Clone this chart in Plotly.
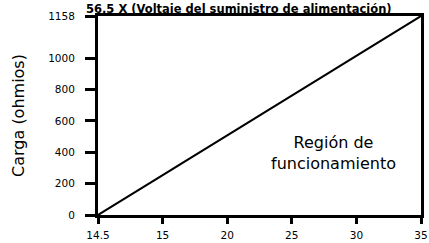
import plotly.graph_objects as go

# Data
x_categories = ["14.5", "15", "20", "25", "30", "35"]
line_x = ["14.5", "35"]
line_y = [0, 1158]
y_tick_labels = ["0", "200", "400", "600", "800", "1000", "1158"]
y_tick_values = [0, 200, 400, 600, 800, 1000]
y_axis_top = 1270  # where the top label sits on the drawn scale

title_text = "56,5 X (Voltaje del suministro de alimentación)"
region_text = "Región de<br>funcionamiento"

font_family = "DejaVu Sans, Liberation Sans, Arial, sans-serif"

fig = go.Figure()
fig.add_trace(go.Scatter(
    x=line_x, y=line_y, mode="lines",
    line=dict(color="black", width=2),
    yaxis="y2", showlegend=False, hoverinfo="skip",
))
fig.add_trace(go.Scatter(x=[x_categories[0]], y=[0], mode="markers",
                         marker=dict(opacity=0), showlegend=False, hoverinfo="skip"))

fig.update_layout(
    width=429, height=243,
    margin=dict(l=98, r=8, t=16, b=28),
    paper_bgcolor="white", plot_bgcolor="white",
    font=dict(family=font_family, color="black"),
    xaxis=dict(
        type="category", categoryorder="array", categoryarray=x_categories,
        range=[0, len(x_categories) - 1], automargin=False,
        showgrid=False, zeroline=False,
        showline=True, linecolor="black", linewidth=3, mirror=True,
        ticks="outside", ticklen=6, tickwidth=2.5, tickcolor="black",
        tickfont=dict(size=10.5, family=font_family),
        ticklabelstandoff=2,
    ),
    yaxis=dict(
        range=[0, y_axis_top], automargin=False,
        tickvals=y_tick_values + [y_axis_top], ticktext=y_tick_labels,
        showgrid=False, zeroline=False,
        showline=True, linecolor="black", linewidth=3, mirror=True,
        ticks="outside", ticklen=10, tickwidth=2.5, tickcolor="black",
        tickfont=dict(size=10.5, family=font_family),
        ticklabelstandoff=8,
        title=dict(text="Carga (ohmios)", font=dict(size=16, family=font_family), standoff=20),
    ),
    yaxis2=dict(
        range=[line_y[0], line_y[-1]], overlaying="y", visible=False,
    ),
    annotations=[
        dict(text=region_text, xref="paper", yref="paper",
             x=(333 - 98) / 323, y=(215 - 153) / 199,
             xanchor="center", yanchor="middle",
             showarrow=False, font=dict(size=16, family=font_family), align="center"),
        dict(text="<b>" + title_text + "</b>", xref="paper", yref="paper",
             x=(84 - 98) / 323, y=(199 + 16) / 199,
             xanchor="left", yanchor="top",
             showarrow=False, font=dict(size=11.5, family=font_family), align="left"),
    ],
)

fig.write_html("out.html", config={"displayModeBar": False},
               post_script="document.body.style.margin='0';")
